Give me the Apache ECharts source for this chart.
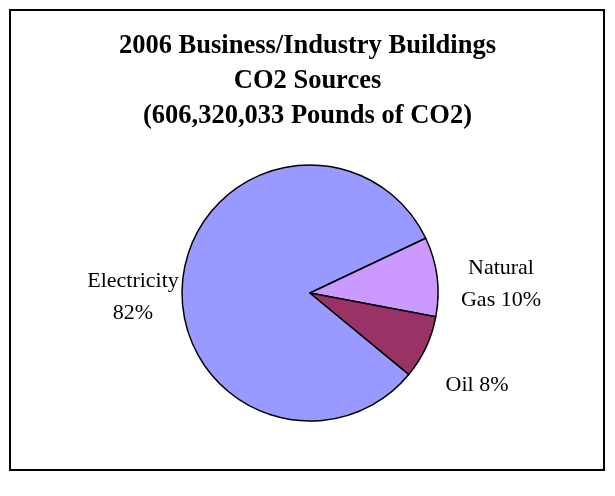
<!DOCTYPE html>
<html>
<head>
<meta charset="utf-8">
<script src="https://cdn.jsdelivr.net/npm/echarts@6/dist/echarts.min.js"></script>
<style>
  html, body { margin: 0; padding: 0; background: #fff; }
  #chart { width: 615px; height: 496px; }
</style>
</head>
<body>
<div id="chart"></div>
<script>
// CO2 sources, share in percent
const categories = ['Electricity', 'Natural Gas', 'Oil']
const shares = [82, 10, 8]
const labelTexts = ['Electricity\n82%', 'Natural\nGas 10%', 'Oil 8%']
const colors = ['#9999FF', '#CC99FF', '#993366']
// where the labels sit (like the excel chart does it)
const labelPos = [[133, 297], [501, 284], [477, 385]]

const chart = echarts.init(document.getElementById('chart'))

const option = {
  animation: false,
  backgroundColor: '#FFFFFF',
  title: {
    text: '2006 Business/Industry Buildings\nCO2 Sources\n(606,320,033 Pounds of CO2)',
    left: 'center',
    top: 24,
    textStyle: {
      fontFamily: 'Liberation Serif',
      fontWeight: 'bold',
      fontSize: 26.5,
      lineHeight: 35,
      color: '#000'
    }
  },
  graphic: [
    {
      type: 'rect',
      shape: { x: 10, y: 10, width: 594, height: 460 },
      style: { fill: 'none', stroke: '#000', lineWidth: 2 },
      silent: true
    }
  ],
  series: [
    {
      type: 'pie',
      center: [310, 293],
      radius: 128,
      startAngle: -39.5,
      clockwise: true,
      data: categories.map((name, i) => ({
        name,
        value: shares[i],
        itemStyle: { color: colors[i] },
        label: { formatter: labelTexts[i] }
      })),
      itemStyle: {
        borderColor: '#000',
        borderWidth: 1.5
      },
      label: {
        show: true,
        position: 'outside',
        fontFamily: 'Liberation Serif',
        fontSize: 22,
        lineHeight: 32,
        color: '#000'
      },
      labelLine: { show: false },
      labelLayout: params => ({
        x: labelPos[params.dataIndex][0],
        y: labelPos[params.dataIndex][1],
        align: 'center',
        verticalAlign: 'middle'
      }),
      emphasis: { disabled: true }
    }
  ]
}

chart.setOption(option)
</script>
</body>
</html>
